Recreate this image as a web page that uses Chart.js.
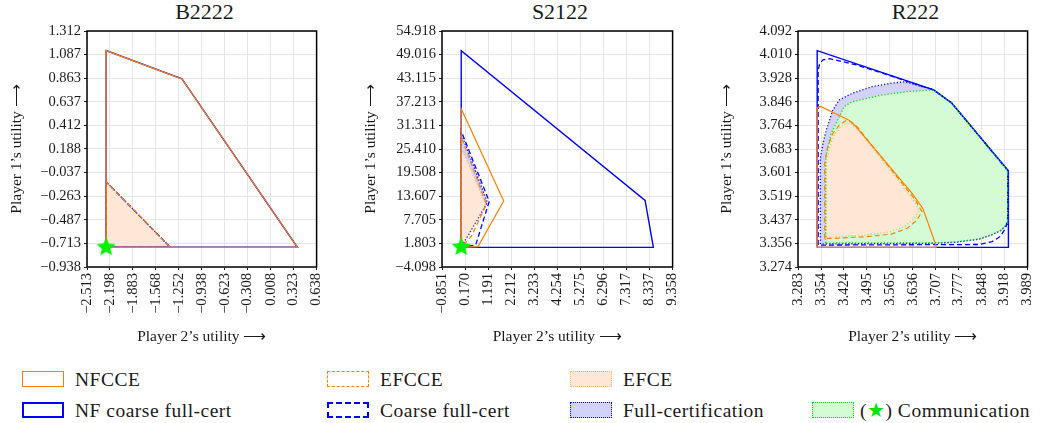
<!DOCTYPE html>
<html>
<head>
<meta charset="utf-8">
<script src="https://cdn.jsdelivr.net/npm/chart.js@4.4.1/dist/chart.umd.min.js"></script>
<style>
body { margin: 0; width: 1040px; height: 423px; overflow: hidden; background: #fff; position: relative;
       font-family: "Liberation Serif", "Times New Roman", serif; color: #1a1a1a; }
canvas { position: absolute; top: 0; }
.title { position: absolute; top: -1px; font-size: 22px; line-height: 26px; transform: translateX(-50%); }
.lt { position: absolute; font-size: 19.5px; line-height: 20px; letter-spacing: 0.5px; white-space: nowrap; }
.sw { position: absolute; width: 42px; height: 16px; box-sizing: border-box; }
</style>
</head>
<body>
<div class="title" style="left:204.5px">B2222</div>
<div class="title" style="left:560px">S2122</div>
<div class="title" style="left:915.5px">R222</div>
<canvas id="c1" width="337" height="350" style="left:0px;width:337px;height:350px"></canvas>
<canvas id="c2" width="348" height="350" style="left:345px;width:348px;height:350px"></canvas>
<canvas id="c3" width="353" height="350" style="left:695px;width:353px;height:350px"></canvas>

<div class="sw" style="left:22px;top:371px;border:1.5px solid #ff8000"></div>
<div class="lt" style="left:75px;top:370px">NFCCE</div>
<div class="sw" style="left:327px;top:371px;border:1.5px dashed #ff8000"></div>
<div class="lt" style="left:380px;top:370px">EFCCE</div>
<div class="sw" style="left:570px;top:371px;border:1.5px dotted #f8b67c;background:#fee8d5"></div>
<div class="lt" style="left:623px;top:370px">EFCE</div>

<div class="sw" style="left:22px;top:402px;border:2px solid #0000ff"></div>
<div class="lt" style="left:75px;top:401px">NF coarse full-cert</div>
<div class="sw" style="left:327px;top:402px;border:2px dashed #0000ff"></div>
<div class="lt" style="left:380px;top:401px">Coarse full-cert</div>
<div class="sw" style="left:570px;top:402px;border:1.5px dotted #0000ff;background:#d3d3fa"></div>
<div class="lt" style="left:623px;top:401px">Full-certification</div>
<div class="sw" style="left:812px;top:402px;border:1.5px dotted #00e000;background:#d5fbd5"></div>
<div class="lt" style="left:860px;top:401px">(<span style="color:#00e600">★</span>) Communication</div>

<script>
// ---- tick values ----
var b2222XTicks = [-2.513, -2.198, -1.883, -1.568, -1.252, -0.938, -0.623, -0.308, 0.008, 0.323, 0.638];
var b2222YTicks = [-0.938, -0.713, -0.487, -0.263, -0.037, 0.188, 0.412, 0.637, 0.863, 1.087, 1.312];
var s2122XTicks = [-0.851, 0.170, 1.191, 2.212, 3.233, 4.254, 5.275, 6.296, 7.317, 8.337, 9.358];
var s2122YTicks = [-4.098, 1.803, 7.705, 13.607, 19.508, 25.410, 31.311, 37.213, 43.115, 49.016, 54.918];
var r222XTicks = [3.283, 3.354, 3.424, 3.495, 3.565, 3.636, 3.707, 3.777, 3.848, 3.918, 3.989];
var r222YTicks = [3.274, 3.356, 3.437, 3.519, 3.601, 3.683, 3.764, 3.846, 3.928, 4.010, 4.092];

// ---- B2222 sets, [player 2 utility, player 1 utility] ----
var b2222NFCoarse = [[-2.25, -0.75], [-2.25, 1.125], [-1.21, 0.855], [0.375, -0.75], [-2.25, -0.75]];
var b2222NFCCE = [[-2.25, -0.75], [-2.25, 1.125], [-1.21, 0.855], [0.375, -0.75], [-2.25, -0.75]];
var b2222Coarse = [[-2.25, -0.75], [-2.25, -0.125], [-1.37, -0.75], [-2.25, -0.75]];
var b2222Full = [[-2.25, -0.75], [-2.25, -0.125], [-1.37, -0.75], [-2.25, -0.75]];
var b2222EFCCE = [[-2.25, -0.75], [-2.25, -0.125], [-1.37, -0.75], [-2.25, -0.75]];
var b2222EFCE = [[-2.25, -0.75], [-2.25, -0.125], [-1.37, -0.75], [-2.25, -0.75]];
var b2222Comm = [[-2.25, -0.75]];

// ---- S2122 ----
var s2122NFCoarse = [[0, 0.82], [0, 50.0], [8.14, 12.55], [8.507, 0.82], [0, 0.82]];
var s2122NFCCE = [[0, 0.82], [0, 35.45], [1.88, 12.4], [0.74, 1.0], [0, 0.82]];
var s2122Coarse = [[0, 0.82], [0, 29.9], [1.24, 12.3], [0.64, 1.4], [0, 0.82]];
var s2122Full = [[0, 0.82], [0, 29.3], [1.16, 12.0], [0.16, 2.4], [0, 0.82]];
var s2122EFCCE = [[0, 0.82], [0, 28.4], [1.12, 11.6], [0.45, 3.6], [0, 0.82]];
var s2122EFCE = [[0, 0.82], [0, 25.2], [0.2, 23.3], [1.1, 11.3], [0.1, 1.8], [0, 0.82]];
var s2122Comm = [[0, 0.9]];

// ---- R222 ----
var r222NFCoarse = [[3.342, 3.342], [3.342, 4.024], [3.700, 3.888], [3.755, 3.843], [3.930, 3.608],
  [3.930, 3.342], [3.342, 3.342]];
var r222NFCCE = [[3.342, 3.342], [3.342, 3.824], [3.346, 3.829], [3.354, 3.830], [3.440, 3.783],
  [3.460, 3.762], [3.634, 3.529], [3.667, 3.477], [3.707, 3.350], [3.708, 3.342], [3.342, 3.342]];
var r222Coarse = [[3.345, 3.350], [3.345, 3.957], [3.350, 3.980], [3.360, 3.992], [3.380, 3.996],
  [3.465, 3.974], [3.700, 3.888], [3.755, 3.843], [3.928, 3.608], [3.928, 3.445], [3.922, 3.410],
  [3.905, 3.380], [3.880, 3.362], [3.840, 3.352], [3.345, 3.350]];
var r222Full = [[3.352, 3.354], [3.352, 3.651], [3.360, 3.703], [3.370, 3.749], [3.390, 3.818],
  [3.410, 3.853], [3.450, 3.876], [3.510, 3.899], [3.570, 3.911], [3.610, 3.916], [3.700, 3.888],
  [3.755, 3.843], [3.929, 3.608], [3.929, 3.425], [3.909, 3.402], [3.879, 3.385], [3.839, 3.370],
  [3.769, 3.360], [3.704, 3.356], [3.352, 3.354]];
var r222Comm = [[3.368, 3.357], [3.368, 3.656], [3.385, 3.737], [3.405, 3.783], [3.425, 3.830],
  [3.450, 3.847], [3.540, 3.870], [3.620, 3.882], [3.685, 3.887], [3.700, 3.886], [3.755, 3.842],
  [3.928, 3.607], [3.928, 3.428], [3.909, 3.403], [3.879, 3.386], [3.839, 3.371], [3.769, 3.361],
  [3.704, 3.358], [3.368, 3.357]];
var r222EFCCE = [[3.365, 3.373], [3.365, 3.633], [3.375, 3.691], [3.390, 3.737], [3.410, 3.766],
  [3.430, 3.781], [3.445, 3.778], [3.465, 3.760], [3.644, 3.506], [3.664, 3.466], [3.649, 3.437],
  [3.619, 3.408], [3.570, 3.388], [3.490, 3.379], [3.390, 3.373], [3.365, 3.373]];
var r222EFCE = [[3.370, 3.377], [3.370, 3.630], [3.380, 3.688], [3.395, 3.733], [3.415, 3.760],
  [3.432, 3.772], [3.447, 3.770], [3.466, 3.752], [3.640, 3.503], [3.655, 3.470], [3.640, 3.442],
  [3.610, 3.414], [3.560, 3.395], [3.480, 3.384], [3.390, 3.378], [3.370, 3.377]];

var ORANGE = '#ff8000', BLUE = '#0000ff', GREEN = '#00e000';
var FONT = '"Liberation Serif", "Times New Roman", serif';

function fmt(v) {
  var s = v.toFixed(3);
  return s.charAt(0) === '-' ? '\u2212' + s.slice(1) : s;
}

function starImage(r) {
  var c = document.createElement('canvas');
  c.width = c.height = 2 * r + 2;
  var g = c.getContext('2d');
  g.translate(r + 1, r + 1);
  g.beginPath();
  for (var i = 0; i < 10; i++) {
    var rad = i % 2 ? r * 0.45 : r;
    var a = -Math.PI / 2 + i * Math.PI / 5;
    g.lineTo(rad * Math.cos(a), rad * Math.sin(a));
  }
  g.closePath();
  g.fillStyle = '#00f000';
  g.fill();
  return c;
}
var STAR = starImage(10);

// polygon fills, drawn under every line
var polyFill = {
  id: 'polyFill',
  beforeDatasetsDraw: function (chart) {
    var ctx = chart.ctx, a = chart.chartArea;
    ctx.save();
    ctx.beginPath();
    ctx.rect(a.left, a.top, a.right - a.left, a.bottom - a.top);
    ctx.clip();
    for (var i = chart.data.datasets.length - 1; i >= 0; i--) {
      var ds = chart.data.datasets[i];
      if (!ds.fillColor) continue;
      var pts = chart.getDatasetMeta(i).data;
      ctx.beginPath();
      pts.forEach(function (p, j) { if (j) ctx.lineTo(p.x, p.y); else ctx.moveTo(p.x, p.y); });
      ctx.closePath();
      ctx.fillStyle = ds.fillColor;
      ctx.fill();
    }
    ctx.restore();
  }
};

var frame = {
  id: 'frame',
  afterDatasetsDraw: function (chart) {
    var ctx = chart.ctx, a = chart.chartArea;
    ctx.save();
    ctx.strokeStyle = '#000';
    ctx.lineWidth = 1.5;
    ctx.strokeRect(a.left, a.top, a.right - a.left, a.bottom - a.top);
    ctx.restore();
  }
};

function pts(arr) {
  return arr.map(function (p) { return {x: p[0], y: p[1]}; });
}

function poly(arr, color, width, dash, fillColor) {
  return {
    data: pts(arr), showLine: true, borderColor: color, borderWidth: width, borderDash: dash,
    pointRadius: 0, fill: false, tension: 0, fillColor: fillColor
  };
}

function setsFor(g) {
  var sets = [
    {data: pts(g.star || []), pointStyle: STAR, pointRadius: 10, showLine: false, clip: false},
    poly(g.efce, 'rgba(255,128,0,0.45)', 1.2, [1.2, 2], '#fee8d5'),
    poly(g.efcce, ORANGE, 1.2, [5, 3]),
    poly(g.nfcce, ORANGE, 1.2, [])
  ];
  if (g.comm) sets.push(poly(g.comm, GREEN, 1.3, [1.2, 2], '#d5fbd5'));
  sets.push(poly(g.full, BLUE, 1.3, [1.2, 2], '#d3d3fa'));
  sets.push(poly(g.coarse, BLUE, 1.3, [5, 3]));
  sets.push(poly(g.nfCoarse, BLUE, 1.4, []));
  return sets;
}

function scale(values, label, pos, size, titlePad) {
  var isX = pos === 'bottom';
  return {
    type: 'linear', position: pos,
    min: values[0], max: values[values.length - 1],
    afterBuildTicks: function (s) { s.ticks = values.map(function (v) { return {value: v}; }); },
    afterFit: function (s) { if (isX) s.height = size; else s.width = size; },
    ticks: {
      autoSkip: false, maxRotation: isX ? 90 : 0, minRotation: isX ? 90 : 0, padding: 3,
      color: '#1a1a1a', font: {family: FONT, size: 14.5},
      callback: function (v) { return fmt(v); }
    },
    grid: {color: '#e6e6e6', lineWidth: 1, tickLength: 3, tickColor: '#1a1a1a'},
    border: {display: false},
    title: {display: true, text: label, color: '#1a1a1a', font: {family: FONT, size: 15.5}, padding: titlePad}
  };
}

function makeChart(id, g, yWidth, yTitlePad) {
  return new Chart(document.getElementById(id), {
    type: 'scatter',
    data: {datasets: setsFor(g)},
    options: {
      responsive: false, animation: false,
      layout: {padding: {left: 0, right: 15, top: 31, bottom: 0}},
      plugins: {legend: {display: false}, tooltip: {enabled: false}},
      scales: {
        x: scale(g.xTicks, 'Player 2\u2019s utility \u27F6', 'bottom', 83, {top: 0, bottom: 4}),
        y: scale(g.yTicks, 'Player 1\u2019s utility \u27F6', 'left', yWidth, {top: yTitlePad, bottom: 0})
      }
    },
    plugins: [polyFill, frame]
  });
}

makeChart('c1', {xTicks: b2222XTicks, yTicks: b2222YTicks, nfCoarse: b2222NFCoarse, nfcce: b2222NFCCE,
  coarse: b2222Coarse, full: b2222Full, efcce: b2222EFCCE, efce: b2222EFCE, star: b2222Comm}, 87, 8);
makeChart('c2', {xTicks: s2122XTicks, yTicks: s2122YTicks, nfCoarse: s2122NFCoarse, nfcce: s2122NFCCE,
  coarse: s2122Coarse, full: s2122Full, efcce: s2122EFCCE, efce: s2122EFCE, star: s2122Comm}, 97, 17);
makeChart('c3', {xTicks: r222XTicks, yTicks: r222YTicks, nfCoarse: r222NFCoarse, nfcce: r222NFCCE,
  coarse: r222Coarse, full: r222Full, efcce: r222EFCCE, efce: r222EFCE, comm: r222Comm}, 103, 23);
</script>
</body>
</html>
